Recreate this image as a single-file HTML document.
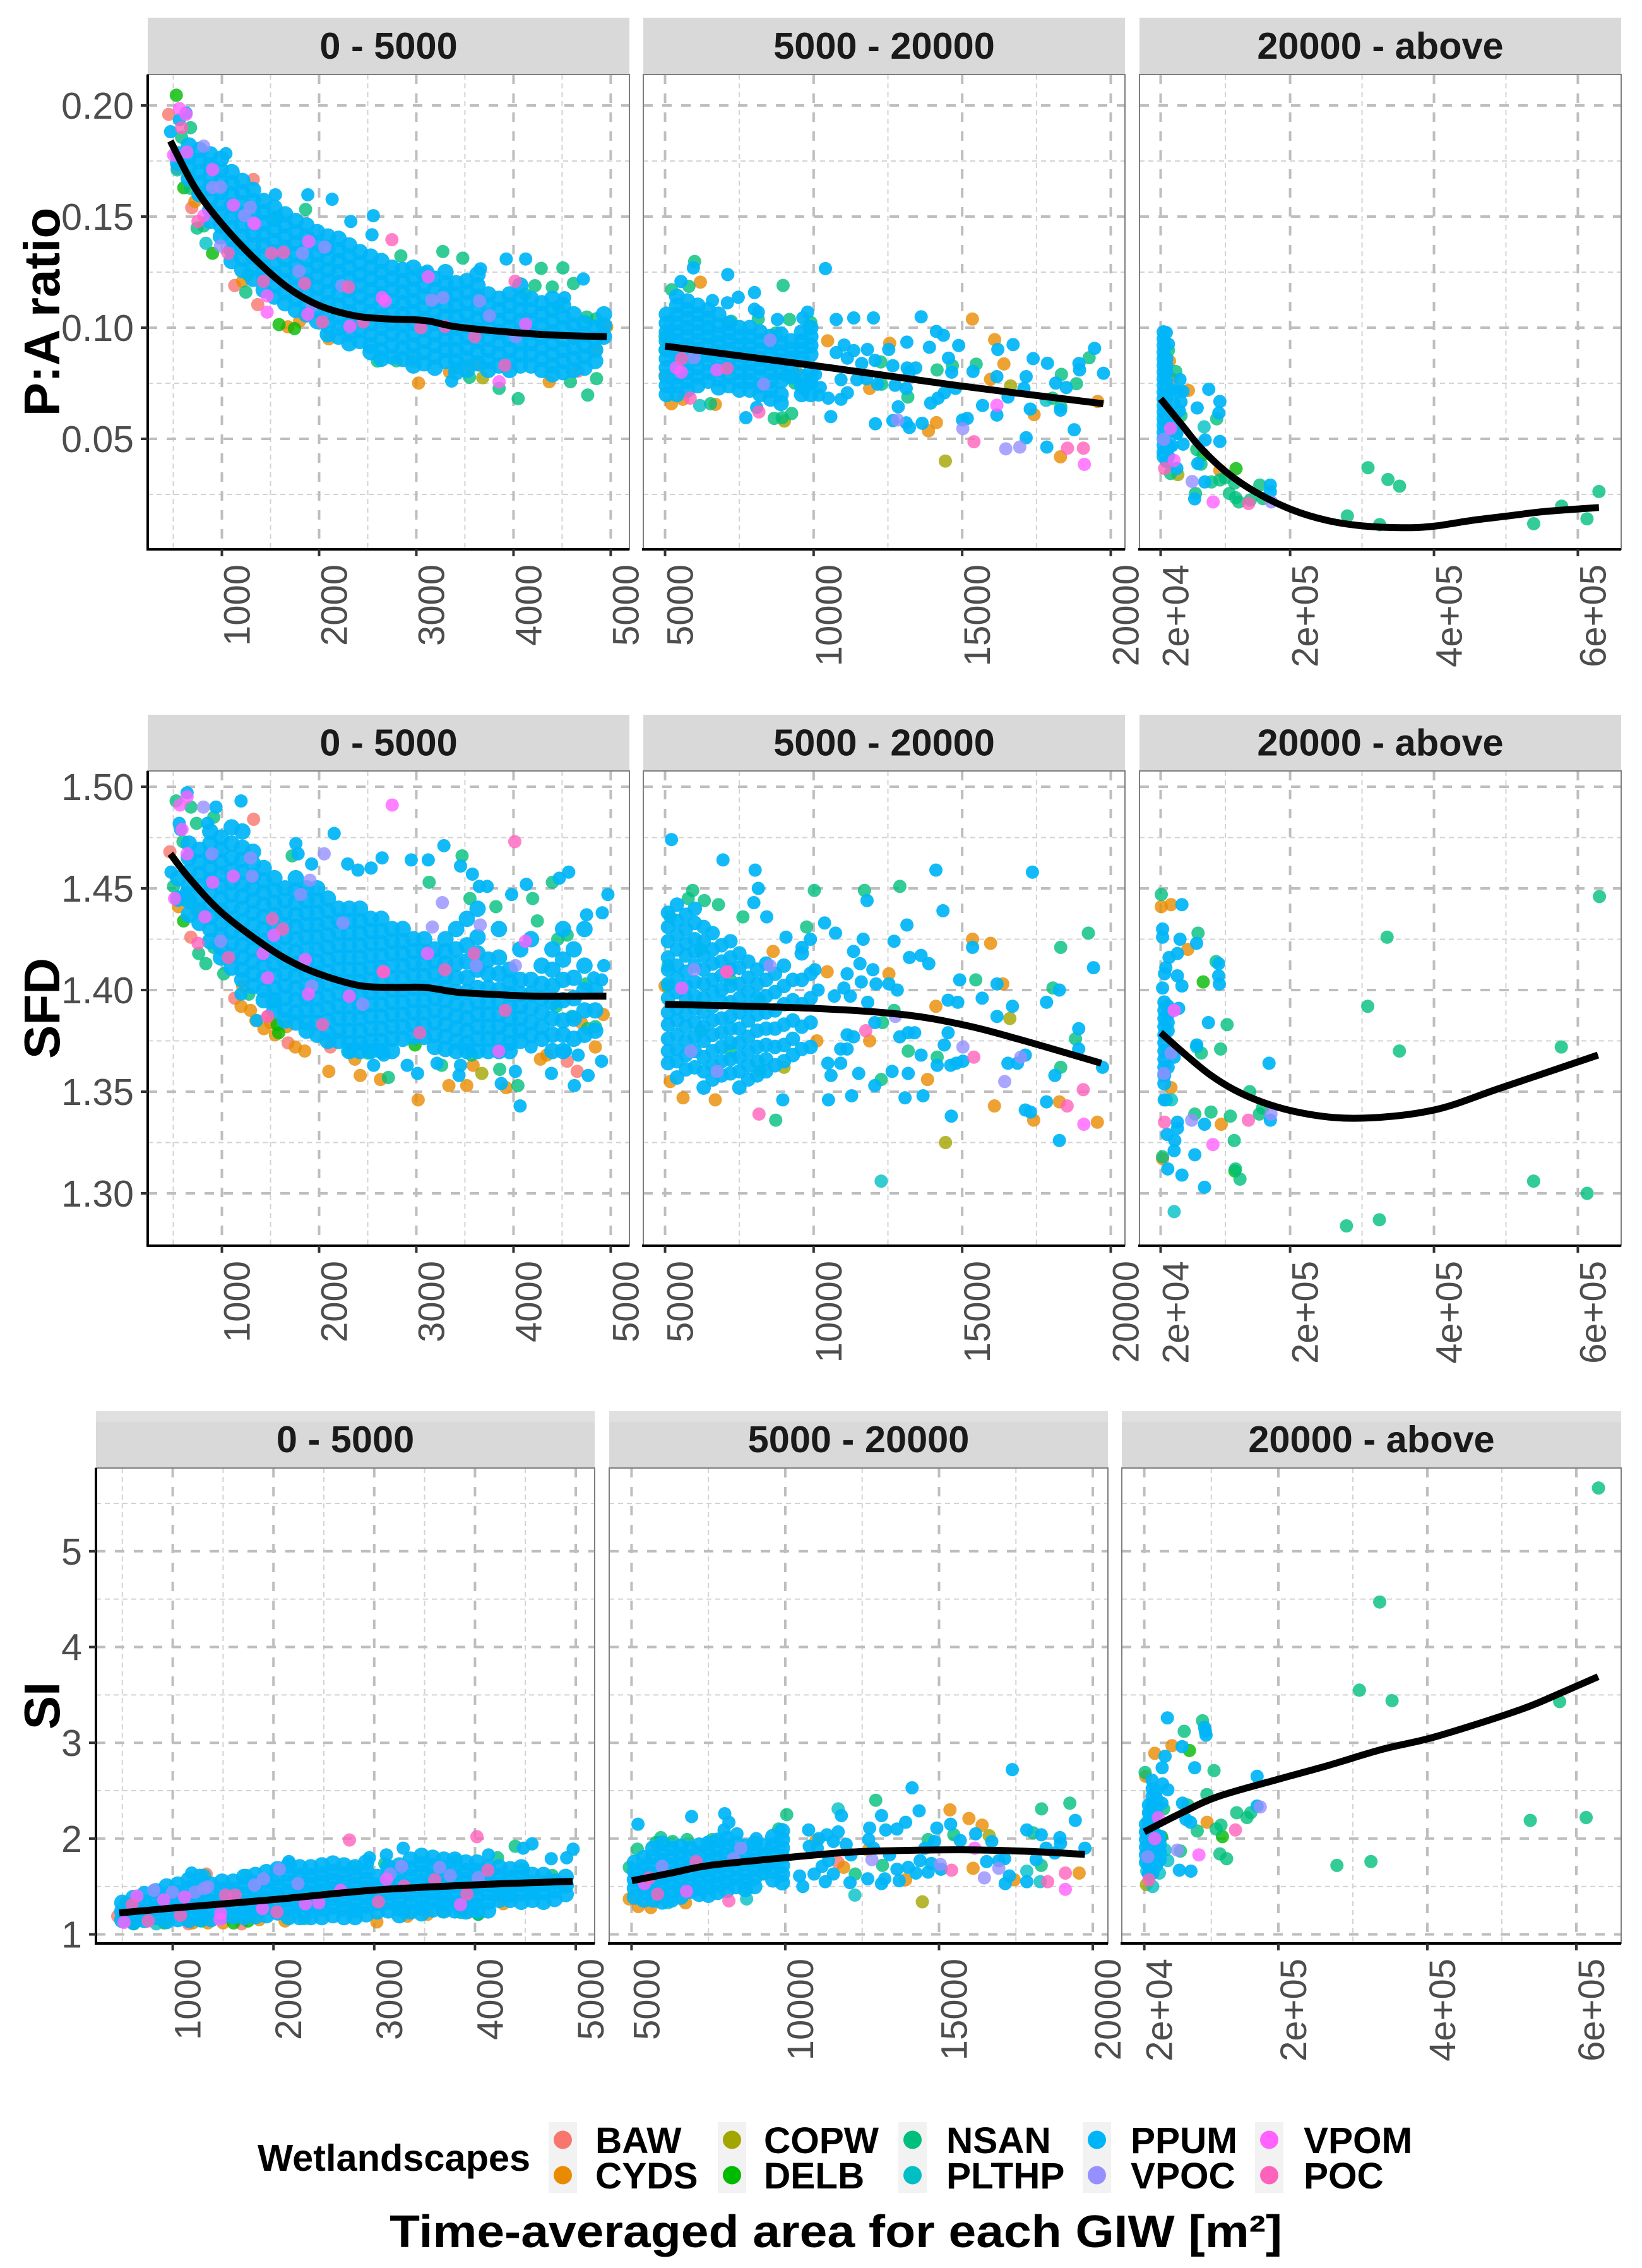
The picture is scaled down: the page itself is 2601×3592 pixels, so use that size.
<!DOCTYPE html>
<html lang="en">
<head>
<meta charset="utf-8">
<title>Wetlandscape metrics by area</title>
<style>
html,body{margin:0;padding:0;background:#fff;}
svg{display:block;font-family:"Liberation Sans",sans-serif;}
</style>
</head>
<body>
<svg id="chart" xmlns="http://www.w3.org/2000/svg" width="2601" height="3592" viewBox="0 0 2601 3592"></svg>
<script>
// ---------- categories and labels ----------
const seriesCodes = ['BAW','CYDS','COPW','DELB','NSAN','PLTHP','PPUM','VPOC','VPOM','POC'];
const seriesColors = ['#F8766D','#E88B00','#A3A500','#00BA00','#00BF7D','#00BFC4','#00B5F7','#9590FF','#FF62FF','#FF62BC'];
const stripLabels = ['0 - 5000','5000 - 20000','20000 - above'];
const smallTicks = [1000,2000,3000,4000,5000];
const smallTickLabels = ['1000','2000','3000','4000','5000'];
const smallMinor = [500,1500,2500,3500,4500];
const midTicks = [5000,10000,15000,20000];
const midTickLabels = ['5000','10000','15000','20000'];
const midMinor = [7500,12500,17500];
const largeTicks = [20000,200000,400000,600000];
const largeTickLabels = ['2e+04','2e+05','4e+05','6e+05'];
const largeMinor = [110000,300000,500000];
const paTicks = [0.05,0.10,0.15,0.20];
const paTickLabels = ['0.05','0.10','0.15','0.20'];
const paMinor = [0.025,0.075,0.125,0.175];
const sfdTicks = [1.30,1.35,1.40,1.45,1.50];
const sfdTickLabels = ['1.30','1.35','1.40','1.45','1.50'];
const sfdMinor = [1.325,1.375,1.425,1.475];
const siTicks = [1,2,3,4,5];
const siTickLabels = ['1','2','3','4','5'];
const siMinor = [1.5,2.5,3.5,4.5,5.5];

// ---------- data: every entry is [area, value, value, ...] ----------
// P:A ratio, 0 - 5000
const pa1Curve = [[470,.184],[722,.163],[995,.147],[1314,.132],[1679,.118],[2000,.110],[2362,.1054],[2680,.104],[3090,.1032],[3410,.1004],[3957,.098],[4458,.0966],[4959,.096]];
const pa1BAW = [[453,.196],[1323,.1667],[690,.154],[1132,.119],[1369,.1104],[4663,.0805]];
const pa1CYDS = [[3023,.0751],[3342,.0801],[3660,.0831],[4367,.0757],[4845,.09],[4959,.1004],[1679,.1004],[722,.1568],[1214,.1209],[540,.1717],[3547,.0831],[1800,.103],[2100,.095]];
const pa1COPW = [[3683,.0775],[2954,.0851]];
const pa1DELB = [[531,.2046],[608,.163],[904,.1335],[1588,.1014],[1747,.0996]];
const pa1NSAN = [[585,.1857],[677,.19],[677,.1627],[745,.1448],[1569,.1498],[1861,.1532],[3273,.1343],[3478,.1313],[4285,.1267],[4508,.1269],[4221,.1189],[4399,.1183],[4617,.1199],[4458,.1096],[4754,.1048],[4048,.0681],[3852,.0727],[4763,.0697],[3547,.0777],[4585,.0757],[4854,.0771],[3410,.082],[2841,.1323],[2795,.0851],[1269,.1239],[1246,.116],[813,.1458],[2600,.085],[4120,.115],[4850,.104]];
const pa1PLTHP = [[540,.171],[836,.138]];
const pa1PPUM = [[1551,.1598],[1884,.1598],[2134,.1578],[2326,.1478],[2558,.1504],[2544,.1418],[1041,.1783],[472,.1882],[631,.1966],[563,.1936],[3925,.1309],[4125,.1309],[4718,.1219],[3660,.1265],[3114,.1255],[4526,.1135],[3364,.076],
[550,.178,.174],[660,.182,.177,.172,.167],[770,.18,.175,.17,.165,.16],[880,.178,.173,.168,.163,.158,.153,.148],[990,.176,.171,.166,.161,.156,.151,.146,.141],[1100,.17,.165,.16,.155,.15,.145,.14,.135,.13],[1210,.166,.161,.156,.151,.146,.141,.136,.131,.126],[1320,.162,.157,.152,.147,.142,.137,.132,.127,.122],[1430,.157,.152,.147,.142,.137,.132,.127,.122,.117],[1540,.154,.149,.144,.139,.134,.129,.124,.119,.114],[1650,.151,.146,.141,.136,.131,.126,.121,.116,.111],[1760,.148,.143,.138,.133,.128,.123,.118,.113,.108],[1870,.146,.141,.136,.131,.126,.121,.116,.111,.106],[1980,.143,.138,.133,.128,.123,.118,.113,.108,.103],[2090,.141,.136,.131,.126,.121,.116,.111,.106,.101,.097],[2200,.14,.135,.13,.125,.12,.115,.11,.105,.1,.096],[2310,.137,.132,.127,.122,.117,.112,.107,.102,.097,.093],[2420,.134,.129,.124,.119,.114,.109,.104,.099,.094],[2530,.132,.127,.122,.117,.112,.107,.102,.097,.092,.089],[2640,.13,.125,.12,.115,.11,.105,.1,.095,.09,.086],[2750,.127,.122,.117,.112,.107,.102,.097,.092,.087],[2860,.126,.121,.116,.111,.106,.101,.096,.091,.086],[2970,.127,.122,.117,.112,.107,.102,.097,.092,.087,.083],[3080,.124,.119,.114,.109,.104,.099,.094,.089,.084],[3190,.122,.117,.112,.107,.102,.097,.092,.087,.082],[3300,.125,.12,.115,.11,.105,.1,.095,.09,.085],[3410,.12,.115,.11,.105,.1,.095,.09,.085,.08],[3520,.121,.116,.111,.106,.101,.096,.091,.086,.081],[3630,.124,.119,.114,.109,.104,.099,.094,.089,.084],[3740,.115,.11,.105,.1,.095,.09,.085,.081],[3850,.113,.108,.103,.098,.093,.088,.083],[3960,.115,.11,.105,.1,.095,.09,.085,.081],[4070,.119,.113,.108,.103,.098,.093,.088,.083],[4180,.113,.108,.103,.098,.093,.088,.083],[4290,.111,.106,.101,.096,.091,.086,.081],[4400,.113,.108,.103,.098,.093,.088,.083,.079],[4510,.11,.105,.1,.095,.09,.085,.08],[4620,.106,.101,.096,.091,.086,.081],[4730,.102,.097,.092,.087,.082],[4840,.1,.095,.09,.085],[4930,.106,.101,.096]];
const pa1VPOC = [[813,.1817],[1292,.1542],[986,.1633],[904,.1631],[1232,.1504],[1323,.1472],[1829,.1335],[2057,.1363],[1793,.1255],[2235,.1189],[986,.1368],[1929,.11],[3159,.1124],[3273,.1135],[3651,.112],[3752,.1054],[4025,.096]];
const pa1VPOM = [[563,.1986],[631,.196],[640,.179],[503,.1777],[904,.1711],[1118,.1552],[813,.1504],[1465,.1143],[1465,.107],[1884,.106],[2649,.1135],[2681,.112],[3123,.1229],[4125,.1016],[2317,.1006],[3852,.0757],[1337,.1468],[1893,.1388]];
const pa1POC = [[585,.19],[2749,.1396],[1510,.1335],[1633,.1339],[1064,.1335],[754,.1478],[1428,.1209],[1852,.1199],[2303,.1183],[2034,.1026],[3046,.1],[3296,.1006],[3601,.096],[4016,.1209],[3911,.0831],[2453,.1026]];

// P:A ratio, 5000 - 20000
const pa2Curve = [[5000,.0917],[10490,.0821],[14775,.0741],[19750,.0658]];
const pa2CYDS = [[6188,.1205],[15343,.1039],[16092,.0946],[12559,.093],[16403,.0837],[15953,.0768],[10471,.0941],[11884,.0727],[17420,.0609],[14133,.0573],[13865,.0536],[18308,.0419],[19561,.0668],[5214,.0658],[6692,.0655],[5000,.0785],[5600,.0678],[9422,.08]];
const pa2COPW = [[14433,.04],[16627,.0738],[9015,.058]];
const pa2NSAN = [[5995,.1298],[5225,.1171],[5803,.1186],[8972,.119],[9186,.1037],[9904,.1024],[8726,.0976],[9368,.0751],[9047,.0785],[8137,.1039],[7227,.1029],[12259,.0846],[14154,.081],[14668,.0829],[15471,.0836],[13169,.0688],[19272,.0865],[18340,.079],[18844,.0748],[18041,.0683],[18319,.0644],[9261,.0614],[8672,.0592],[8940,.0595],[6531,.0658],[12291,.0746],[5000,.096],[5000,.09]];
const pa2PLTHP = [[6167,.065],[17826,.0673]];
const pa2PPUM = [[10396,.1266],[7109,.1239],[5953,.1269],[5535,.1208],[8009,.1158],[7463,.1137],[7098,.1112],[6595,.1122],[8009,.1083],[8137,.107],[8780,.1037],[9797,.107],[9636,.1044],[10760,.1037],[11349,.1044],[12013,.1044],[13619,.1049],[14133,.0983],[14368,.0966],[13137,.0935],[13897,.0912],[14882,.092],[16199,.0902],[16713,.0924],[17388,.0861],[17869,.084],[18929,.0839],[19454,.0907],[19754,.0795],[18951,.081],[14540,.0863],[14647,.08],[15364,.0803],[16167,.078],[17152,.078],[17077,.0727],[16542,.0688],[18148,.0751],[18501,.0731],[14775,.0727],[14400,.0707],[14186,.0683],[13940,.0661],[12848,.0644],[15685,.065],[17291,.0634],[18308,.0629],[16167,.0607],[15011,.0585],[15171,.0592],[12666,.0582],[13116,.0572],[13223,.0551],[13651,.057],[12077,.0568],[10578,.06],[7720,.0595],[8084,.0641],[17152,.0505],[17848,.0463],[18769,.0541],[11028,.0922],[11349,.0897],[10760,.0888],[11810,.0902],[11135,.0863],[11617,.0839],[12066,.0853],[12527,.0902],[12666,.0829],[13148,.0819],[13437,.0819],[13223,.08],[10921,.0766],[11456,.0766],[11777,.077],[12152,.0746],[12741,.0741],[13116,.0727],[11135,.0707],[10921,.0678],[10492,.0683],[10171,.0697],[10225,.0731],[9690,.0722],[9904,.0761],[10064,.079],
[5050,.106,.102,.098,.094,.09,.086,.082,.078,.074,.07],[5400,.114,.11,.106,.102,.098,.094,.09,.086,.082,.078,.074,.07],[5750,.112,.108,.104,.1,.096,.092,.088,.084,.08,.076,.072],[6100,.11,.106,.102,.098,.094,.09,.086,.082,.078,.074],[6450,.108,.104,.1,.096,.092,.088,.084,.08,.076],[6800,.106,.101,.097,.093,.089,.085,.081,.077,.073],[7150,.102,.098,.094,.09,.086,.082,.078,.074],[7500,.1,.096,.092,.088,.084,.08,.076,.072],[7850,.1,.096,.092,.088,.084,.08,.076,.072],[8200,.098,.094,.09,.086,.082,.078,.074,.07],[8550,.096,.092,.088,.084,.08,.076,.072,.068],[8900,.097,.093,.089,.085,.08,.076,.07,.066],[9250,.094,.09,.086,.082,.078],[9600,.098,.094,.09,.086,.078,.074,.07],[9900,.1,.096,.092,.088,.08,.075,.07]];
const pa2VPOC = [[8533,.0944],[8319,.0746],[5974,.0865],[12827,.0585],[15021,.0546],[16467,.0455],[16938,.0463]];
const pa2VPOM = [[16167,.0651],[19111,.0385],[5546,.08],[6745,.081],[5375,.082]];
const pa2POC = [[5557,.0861],[7088,.0817],[5846,.0683],[8158,.0621],[15396,.0487],[18544,.0458],[19079,.0458]];

// P:A ratio, 20000 - above
const pa3Curve = [[20000,.068],[49736,.0562],[74936,.0462],[110216,.0353],[150536,.0263],[200936,.0183],[251336,.0133],[301736,.0108],[362216,.01],[402536,.0108],[452936,.0133],[503336,.0153],[553736,.0173],[629336,.0191]];
const pa3CYDS = [[58544,.0718],[32264,.085],[102344,.0358],[35184,.077]];
const pa3COPW = [[43944,.0339]];
const pa3DELB = [[124828,.0366],[78984,.0429]];
const pa3NSAN = [[41024,.0803],[30804,.0898],[97964,.059],[76064,.0386],[70224,.0452],[68472,.0254],[90664,.0306],[102344,.0315],[109644,.0325],[122784,.0301],[115484,.0254],[124244,.0235],[128624,.0216],[144684,.0225],[157824,.0292],[162204,.0231],[33724,.0344],[48324,.0604],[279560,.0153],[308288,.037],[336000,.0317],[352136,.0287],[324416,.0114],[538616,.0118],[577424,.0197],[612704,.014],[629336,.0263]];
const pa3PLTHP = [[80440,.0554],[42484,.053]];
const pa3PPUM = [[24000,.098,.095,.092,.089,.086,.083,.08,.077,.074,.071,.068,.065,.062,.059,.056,.053,.05,.047,.044,.042],[28000,.086,.083,.08,.076,.072,.068,.064,.06,.056,.052,.048,.044,.04],[27884,.0978],[30804,.0926],[46864,.0767],[43944,.0713],[51000,.0713],[48324,.0666],[46000,.0625],[42484,.0524],[51244,.0476],[38000,.056],[33000,.0465],[36000,.047],[31000,.042],[42484,.0367],[36000,.072],[38000,.066],[86868,.0723],[102344,.0668],[70808,.0639],[100884,.0616],[81904,.0495],[102344,.0488],[71684,.0389],[81320,.0306],[67304,.023],[172424,.0292],[172424,.0263]];
const pa3VPOC = [[24380,.0498],[63800,.0308],[173884,.0216]];
const pa3VPOM = [[33724,.0547],[38688,.0403],[93000,.0216]];
const pa3POC = [[25548,.0367],[142348,.0209]];

// SFD, 0 - 5000
const sfd1Curve = [[470,1.467],[665,1.455],[1000,1.438],[1470,1.421],[1794,1.412],[2116,1.406],[2439,1.402],[2761,1.4013],[3084,1.4013],[3406,1.399],[3729,1.398],[4213,1.397],[4955,1.397]];
const sfd1BAW = [[465,1.468],[1326,1.484],[681,1.426],[1132,1.396],[1681,1.374],[1471,1.387],[2116,1.372],[4655,1.36],[4552,1.365]];
const sfd1CYDS = [[2100,1.36],[2423,1.358],[2632,1.356],[3335,1.353],[3519,1.353],[3019,1.346],[2368,1.366],[1852,1.37],[1755,1.372],[1432,1.381],[1294,1.39],[1197,1.392],[1665,1.382],[3923,1.352],[3584,1.363],[4277,1.366],[4342,1.368],[4697,1.384],[4923,1.388],[4842,1.372],[552,1.441],[745,1.439],[1213,1.402],[1350,1.385],[1550,1.378],[1500,1.384]];
const sfd1COPW = [[3674,1.359]];
const sfd1DELB = [[606,1.434],[1568,1.383],[1584,1.379],[2987,1.373]];
const sfd1NSAN = [[529,1.493],[681,1.49],[916,1.485],[739,1.482],[600,1.473],[1723,1.466],[503,1.451],[681,1.443],[3132,1.453],[3471,1.466],[4400,1.453],[4197,1.445],[3819,1.441],[3552,1.445],[761,1.418],[916,1.421],[835,1.413],[1019,1.408],[1277,1.398],[1519,1.394],[2713,1.357],[4045,1.353],[3261,1.363],[3858,1.361],[3568,1.368],[4600,1.387],[4842,1.382],[4761,1.381],[4745,1.403],[4439,1.392],[2310,1.37],[2503,1.369],[4552,1.427],[4245,1.434],[4455,1.425]];
const sfd1PPUM = [[642,1.497],[939,1.49],[1197,1.493],[561,1.482],[574,1.479],[852,1.482],[2155,1.477],[3284,1.471],[3455,1.461],[1761,1.472],[1784,1.467],[2648,1.465],[2948,1.464],[3123,1.464],[1923,1.462],[2294,1.462],[2400,1.459],[2535,1.46],[3577,1.457],[4568,1.458],[4471,1.455],[4132,1.452],[3981,1.447],[4971,1.447],[4752,1.437],[4913,1.438],[3729,1.451],[3648,1.451],[4929,1.412],[4906,1.405],[4826,1.406],[477,1.458],[632,1.448],[4068,1.343],[4626,1.353],[4906,1.365],[4768,1.358],[4019,1.36],[3874,1.354],[3439,1.358],[3013,1.359],[2906,1.363],[2561,1.363],[4390,1.359],[3455,1.363],[2665,1.368],[3213,1.364],[4181,1.372],[4665,1.368],[4535,1.37],[1197,1.398],[1358,1.385],
[550,1.455,1.445],[660,1.472,1.465,1.458,1.451,1.444,1.437],[770,1.469,1.463,1.457,1.451,1.445,1.439,1.433],[880,1.478,1.472,1.466,1.46,1.454,1.448,1.442,1.436,1.43,1.424],[990,1.475,1.469,1.463,1.457,1.451,1.445,1.439,1.433,1.427,1.421,1.416],[1100,1.48,1.472,1.465,1.459,1.453,1.447,1.441,1.435,1.429,1.423,1.417,1.411],[1210,1.478,1.47,1.464,1.458,1.452,1.446,1.44,1.434,1.428,1.422,1.416,1.41,1.405],[1320,1.468,1.462,1.456,1.45,1.444,1.438,1.432,1.426,1.42,1.414,1.408,1.402],[1430,1.46,1.454,1.448,1.442,1.436,1.43,1.424,1.418,1.412,1.406,1.4,1.395],[1540,1.455,1.449,1.443,1.437,1.431,1.425,1.419,1.413,1.407,1.401,1.395,1.39],[1650,1.45,1.444,1.438,1.432,1.426,1.42,1.414,1.408,1.402,1.396,1.39,1.385],[1760,1.455,1.449,1.443,1.437,1.431,1.425,1.419,1.413,1.407,1.401,1.395,1.389,1.384],[1870,1.45,1.444,1.438,1.432,1.426,1.42,1.414,1.408,1.402,1.396,1.39,1.384,1.38],[1980,1.45,1.444,1.438,1.432,1.426,1.42,1.414,1.408,1.402,1.396,1.39,1.384,1.378],[2090,1.445,1.439,1.433,1.427,1.421,1.415,1.409,1.403,1.397,1.391,1.385,1.379,1.375],[2200,1.44,1.434,1.428,1.422,1.416,1.41,1.404,1.398,1.392,1.386,1.38,1.375],[2310,1.44,1.434,1.428,1.422,1.416,1.41,1.404,1.398,1.392,1.386,1.38,1.374,1.37],[2420,1.44,1.434,1.428,1.422,1.416,1.41,1.404,1.398,1.392,1.386,1.38,1.374,1.37],[2530,1.435,1.429,1.423,1.417,1.411,1.405,1.399,1.393,1.387,1.381,1.375,1.37],[2640,1.435,1.429,1.423,1.417,1.411,1.405,1.399,1.393,1.387,1.381,1.375,1.37],[2750,1.43,1.424,1.418,1.412,1.406,1.4,1.394,1.388,1.382,1.376,1.37],[2860,1.43,1.424,1.418,1.412,1.406,1.4,1.394,1.388,1.382,1.376],[2970,1.425,1.419,1.413,1.407,1.401,1.395,1.389,1.383,1.377],[3080,1.425,1.419,1.413,1.407,1.401,1.395,1.389,1.383,1.377],[3190,1.42,1.414,1.408,1.402,1.396,1.39,1.384,1.378,1.372],[3300,1.425,1.419,1.413,1.407,1.401,1.395,1.389,1.383,1.377,1.371],[3410,1.43,1.42,1.413,1.406,1.399,1.393,1.387,1.381,1.375,1.37],[3520,1.435,1.422,1.414,1.406,1.399,1.392,1.386,1.38,1.374,1.37],[3630,1.44,1.426,1.418,1.41,1.401,1.394,1.388,1.382,1.376,1.37],[3740,1.415,1.408,1.401,1.394,1.388,1.382,1.376,1.37],[3850,1.43,1.416,1.408,1.4,1.394,1.388,1.382,1.376,1.37],[3960,1.41,1.404,1.398,1.392,1.386,1.38,1.374,1.37],[4070,1.42,1.405,1.398,1.392,1.386,1.38,1.375],[4180,1.425,1.405,1.398,1.391,1.384,1.378],[4290,1.412,1.403,1.396,1.389,1.382,1.376],[4400,1.42,1.41,1.402,1.394,1.386,1.378,1.37],[4510,1.43,1.415,1.405,1.395,1.385,1.378,1.37],[4620,1.42,1.406,1.396,1.386,1.376],[4730,1.43,1.412,1.4,1.39,1.378],[4840,1.4,1.39,1.38]];
const sfd1VPOC = [[810,1.49],[2052,1.467],[897,1.467],[1906,1.454],[1810,1.447],[3268,1.443],[3658,1.432],[3165,1.431],[4019,1.412],[3616,1.412],[1294,1.465],[1310,1.456],[2448,1.393],[987,1.424],[2245,1.433],[1923,1.402]];
const sfd1VPOM = [[568,1.491],[642,1.495],[590,1.479],[642,1.467],[513,1.445],[2752,1.491],[1471,1.406],[3116,1.418],[4123,1.424],[2665,1.409],[3848,1.37],[1890,1.398],[2310,1.397],[1116,1.456],[906,1.453],[826,1.436],[1535,1.427],[1423,1.418],[1858,1.415]];
const sfd1POC = [[4013,1.473],[755,1.423],[1519,1.435],[1626,1.43],[1068,1.416],[2658,1.409],[3294,1.41],[3594,1.418],[3035,1.379],[2035,1.383],[3913,1.39],[1471,1.387]];

// SFD, 5000 - 20000
const sfd2Curve = [[5000,1.393],[10000,1.391],[12965,1.388],[15000,1.383],[16860,1.376],[19680,1.364]];
const sfd2CYDS = [[15349,1.425],[15955,1.423],[16366,1.403],[12534,1.408],[10456,1.409],[14115,1.392],[11885,1.375],[13833,1.356],[16085,1.343],[17405,1.336],[18271,1.345],[19549,1.335],[5606,1.347],[6689,1.346],[5173,1.355],[8637,1.419],[10109,1.375],[5000,1.402]];
const sfd2COPW = [[14439,1.325],[16604,1.386],[9005,1.362]];
const sfd2NSAN = [[10023,1.449],[11712,1.449],[12902,1.451],[19246,1.428],[18315,1.421],[15457,1.405],[18055,1.401],[12707,1.39],[12318,1.384],[13184,1.37],[14158,1.367],[12274,1.356],[18315,1.362],[18812,1.376],[9763,1.431],[8724,1.336],[7620,1.436],[6797,1.442],[6321,1.444],[5931,1.449],[5779,1.445],[5173,1.436],[7200,1.405],[7200,1.37],[8200,1.395],[8200,1.36],[6200,1.42],[6200,1.38],[5100,1.412],[5100,1.402]];
const sfd2PLTHP = [[12274,1.306]];
const sfd2PPUM = [[5216,1.474],[6949,1.464],[8031,1.459],[8139,1.45],[7988,1.443],[8421,1.436],[14115,1.459],[17362,1.458],[14353,1.439],[13140,1.432],[10369,1.433],[10737,1.428],[11668,1.425],[11798,1.444],[12707,1.424],[11343,1.419],[13227,1.416],[13616,1.417],[13877,1.413],[11560,1.413],[11993,1.41],[11127,1.408],[10044,1.41],[9070,1.426],[9893,1.425],[9611,1.421],[19419,1.411],[15349,1.421],[14916,1.405],[16172,1.403],[18271,1.4],[17838,1.394],[15673,1.396],[14851,1.394],[14526,1.395],[16691,1.392],[11603,1.404],[12101,1.403],[12534,1.403],[12815,1.4],[11019,1.401],[10694,1.397],[11235,1.397],[11820,1.394],[10152,1.4],[12058,1.384],[13184,1.379],[13400,1.379],[12900,1.377],[14526,1.379],[16172,1.387],[18921,1.381],[11127,1.378],[11343,1.377],[11127,1.371],[10910,1.371],[14396,1.373],[17124,1.368],[16860,1.364],[16540,1.364],[14800,1.364],[15024,1.365],[14612,1.363],[14158,1.363],[13616,1.368],[13184,1.359],[12642,1.36],[11517,1.359],[12058,1.353],[10910,1.364],[10477,1.364],[10585,1.358],[18119,1.358],[19722,1.362],[18921,1.371],[11279,1.348],[10499,1.346],[13076,1.347],[13682,1.348],[8962,1.346],[14634,1.338],[18271,1.326],[17124,1.341],[17297,1.34],[17838,1.345],
[5100,1.438,1.431,1.424,1.416,1.41,1.403,1.396,1.389,1.383,1.376,1.37,1.364],[5400,1.442,1.434,1.427,1.42,1.412,1.406,1.399,1.391,1.385,1.378,1.371,1.365,1.357],[5700,1.437,1.43,1.423,1.417,1.409,1.402,1.396,1.388,1.382,1.375,1.368,1.361],[6000,1.44,1.433,1.425,1.419,1.412,1.404,1.397,1.391,1.384,1.377,1.37,1.362],[6300,1.431,1.424,1.417,1.41,1.403,1.396,1.389,1.382,1.375,1.367,1.36,1.352],[6600,1.428,1.42,1.413,1.405,1.399,1.392,1.385,1.378,1.37,1.363,1.356],[6900,1.422,1.414,1.407,1.4,1.394,1.386,1.379,1.372,1.365,1.358],[7200,1.424,1.416,1.41,1.402,1.394,1.387,1.381,1.374,1.366,1.359],[7500,1.418,1.411,1.403,1.396,1.389,1.381,1.374,1.367,1.36,1.352],[7800,1.414,1.406,1.399,1.392,1.385,1.377,1.37,1.363,1.356],[8100,1.41,1.403,1.396,1.388,1.38,1.372,1.365,1.358],[8400,1.413,1.405,1.397,1.389,1.381,1.373,1.366,1.36],[8700,1.408,1.399,1.39,1.381,1.372,1.363],[9000,1.412,1.402,1.393,1.383,1.373,1.365],[9300,1.405,1.395,1.385,1.376,1.368],[9600,1.418,1.405,1.393,1.382,1.371],[9900,1.408,1.396,1.384,1.372]];
const sfd2VPOC = [[16431,1.355],[15024,1.372],[16973,1.367],[5866,1.37],[5974,1.41],[8530,1.412],[6753,1.36],[12750,1.387]];
const sfd2VPOM = [[19094,1.334],[5563,1.401],[7078,1.409]];
const sfd2POC = [[19073,1.351],[18531,1.343],[8161,1.339],[15392,1.367],[11755,1.38],[7078,1.409]];

// SFD, 20000 - above
const sfd3Curve = [[20000,1.379],[90000,1.358],[152800,1.346],[224500,1.339],[300700,1.337],[400000,1.341],[494000,1.352],[628000,1.368]];
const sfd3CYDS = [[20900,1.441],[34400,1.442],[57700,1.42],[104300,1.334],[34400,1.352],[22700,1.317]];
const sfd3DELB = [[79200,1.404],[123200,1.311]];
const sfd3NSAN = [[20900,1.447],[72000,1.428],[97100,1.414],[112400,1.383],[103400,1.371],[76500,1.369],[143800,1.35],[161700,1.342],[157200,1.339],[116900,1.338],[90000,1.34],[67500,1.339],[122300,1.326],[124100,1.312],[130300,1.307],[22700,1.318],[307900,1.392],[351900,1.37],[334800,1.426],[577000,1.372],[538500,1.306],[612900,1.3],[630000,1.446],[278300,1.284],[324100,1.287]];
const sfd3PLTHP = [[38800,1.291],[70000,1.372],[28000,1.346],[35000,1.346]];
const sfd3PPUM = [[49600,1.442],[22700,1.43],[22700,1.426],[46900,1.425],[70000,1.423],[43300,1.418],[31700,1.416],[27200,1.411],[25400,1.408],[43300,1.407],[100700,1.413],[100700,1.407],[101600,1.403],[49600,1.402],[22700,1.401],[45100,1.391],[86400,1.384],[70200,1.373],[38800,1.367],[170700,1.364],
[25000,1.394,1.39,1.386,1.382,1.378,1.374,1.37,1.366,1.362,1.358,1.354],[30000,1.392,1.388,1.384,1.38,1.37,1.362],[43300,1.335],[43300,1.332],[81000,1.334],[29000,1.329],[172500,1.336],[39700,1.326],[38800,1.321],[67500,1.319],[29900,1.312],[49600,1.309],[81000,1.303],[25000,1.346]];
const sfd3VPOC = [[63100,1.336],[173400,1.339],[34400,1.369],[38800,1.39],[24500,1.359]];
const sfd3VPOM = [[92700,1.324],[38800,1.39]];
const sfd3POC = [[142000,1.336],[25400,1.335]];

// SI, 0 - 5000
const si1Curve = [[470,1.224],[1000,1.275],[2000,1.363],[3000,1.462],[4000,1.517],[4970,1.554]];
const si1BAW = [[1332,1.63],[454,1.19],[1157,1.11],[1684,1.11]];
const si1CYDS = [[3026,1.13],[3329,1.19],[3530,1.21],[3936,1.23],[4281,1.32],[2115,1.14],[1348,1.12],[1859,1.154],[1500,1.12],[1200,1.12]];
const si1COPW = [[3674,1.24]];
const si1DELB = [[534,1.33],[613,1.11],[917,1.12],[1604,1.12],[1748,1.14],[4032,1.21]];
const si1NSAN = [[4399,1.92],[1732,1.615],[4224,1.8],[3105,1.74],[2786,1.7],[3808,1.77],[4479,1.68],[4767,1.615],[4032,1.21],[2307,1.165],[1284,1.14],[3297,1.24],[3856,1.23]];
const si1PLTHP = [[837,1.11],[1316,1.615]];
const si1PPUM = [[3288,1.9],[3121,1.83],[2952,1.8],[4479,1.9],[4566,1.945],[4974,1.89],[4910,1.8],[4757,1.79],[4134,1.83],[2153,1.76],[1188,1.64],
[500,1.33,1.24,1.15],[610,1.38,1.29,1.2,1.13],[720,1.42,1.33,1.24,1.15],[830,1.45,1.36,1.27,1.18],[940,1.5,1.41,1.32,1.23,1.14],[1050,1.52,1.43,1.34,1.25,1.16],[1160,1.57,1.48,1.39,1.3,1.21,1.15],[1270,1.6,1.51,1.42,1.33,1.24,1.16],[1380,1.52,1.43,1.34,1.25,1.16],[1490,1.55,1.46,1.37,1.28,1.19],[1600,1.55,1.46,1.37,1.28,1.19],[1710,1.6,1.51,1.42,1.33,1.24,1.18],[1820,1.62,1.53,1.44,1.35,1.26,1.19],[1930,1.65,1.56,1.47,1.38,1.29,1.2],[2040,1.68,1.59,1.5,1.41,1.32,1.23],[2150,1.72,1.63,1.54,1.45,1.36,1.27,1.18],[2260,1.7,1.61,1.52,1.43,1.34,1.25,1.18],[2370,1.7,1.61,1.52,1.43,1.34,1.25,1.18],[2480,1.72,1.63,1.54,1.45,1.36,1.27,1.18],[2590,1.74,1.65,1.56,1.47,1.38,1.29,1.2],[2700,1.72,1.63,1.54,1.45,1.36,1.27,1.18],[2810,1.7,1.61,1.52,1.43,1.34,1.25,1.18],[2920,1.75,1.66,1.57,1.48,1.39,1.3,1.21],[3030,1.6,1.51,1.42,1.33,1.24],[3140,1.7,1.61,1.52,1.43,1.34,1.25],[3250,1.72,1.63,1.54,1.45,1.36,1.27,1.2],[3360,1.78,1.69,1.6,1.51,1.42,1.33,1.24],[3470,1.82,1.73,1.64,1.55,1.46,1.37,1.28,1.22],[3580,1.8,1.71,1.62,1.53,1.44,1.35,1.26],[3690,1.78,1.69,1.6,1.51,1.42,1.33,1.25],[3800,1.78,1.69,1.6,1.51,1.42,1.33,1.25],[3910,1.75,1.66,1.57,1.48,1.39,1.3,1.24],[4020,1.75,1.66,1.57,1.48,1.39,1.3,1.25],[4130,1.7,1.61,1.52,1.43,1.34,1.25],[4240,1.7,1.61,1.52,1.43,1.36],[4350,1.68,1.59,1.5,1.41,1.36],[4460,1.7,1.61,1.52,1.43,1.34],[4570,1.62,1.53,1.44,1.36],[4680,1.62,1.53,1.44,1.34],[4790,1.55,1.46,1.37],[4900,1.6,1.51,1.42]];
const si1VPOC = [[812,1.46],[997,1.44],[1220,1.44],[1310,1.48],[1348,1.495],[1812,1.515],[1901,1.58],[2058,1.68],[2243,1.53],[3157,1.63],[3272,1.71],[3649,1.7],[3754,1.615],[4032,1.59]];
const si1VPOM = [[518,1.125],[645,1.4],[910,1.36],[1118,1.39],[1476,1.22],[1470,1.155],[1891,1.27],[2316,1.32],[2450,1.33],[2668,1.46],[3121,1.575],[3856,1.31]];
const si1POC = [[2754,1.985],[4019,2.02],[3601,1.57],[3042,1.34],[2035,1.235],[757,1.14],[597,1.31],[1524,1.41],[1620,1.41],[3920,1.42],[3297,1.505],[4128,1.67],[1077,1.2]];

// SI, 5000 - 20000
const si2Curve = [[5010,1.56],[6285,1.64],[7540,1.72],[10000,1.8],[12030,1.857],[13600,1.875],[15690,1.883],[17780,1.868],[19745,1.835]];
const si2BAW = [[11719,1.75]];
const si2CYDS = [[15356,2.3],[15973,2.21],[16401,2.14],[16108,1.69],[19557,1.64],[17446,1.57],[13914,1.57],[11897,1.7],[6756,1.33],[5627,1.28],[5219,1.29],[4927,1.37],[12700,1.88],[11000,1.98]];
const si2COPW = [[14457,1.34],[16631,2.03]];
const si2NSAN = [[5188,1.89],[5951,2.01],[6338,1.97],[6808,1.99],[7623,1.99],[5800,1.96],[10047,2.25],[9786,2.1],[12942,2.4],[18334,2.31],[19254,2.37],[15481,2.04],[14645,1.99],[18062,2.06],[18324,1.72],[13161,1.72],[12273,1.63],[9285,1.63],[4927,1.7],[8689,1.49]];
const si2PLTHP = [[11719,2.31],[12263,1.41],[17854,1.66],[8741,1.37],[18292,1.55],[6181,1.33]];
const si2PPUM = [[5209,2.15],[6954,2.23],[8030,2.26],[8166,2.17],[8010,2.09],[8428,2.05],[9055,2],[17383,2.72],[14123,2.53],[14353,2.29],[13130,2.24],[11824,2.24],[12743,2.11],[13266,2.09],[13632,2.1],[13914,2.17],[14928,2.11],[15377,2.15],[16192,2.05],[15690,1.98],[16715,1.97],[17854,2.09],[18324,2.04],[18930,2.01],[19431,2.19],[19745,1.9],[18951,1.95],[18481,1.9],[18156,1.78],[18762,1.85],[17133,1.79],[16547,1.76],[16944,1.77],[17289,1.61],[17153,1.53],[17854,1.55],[14854,1.97],[14541,1.9],[14384,1.77],[14750,1.74],[14645,1.65],[15063,1.68],[14248,1.64],[13997,1.7],[13632,1.68],[13705,1.56],[13235,1.58],[13130,1.53],[12681,1.58],[12106,1.54],[11563,1.63],[11301,1.55],[10936,1.63],[11197,1.71],[11406,1.77],[10570,1.5],[10465,1.61],[11719,2.07],[11354,2.04],[11092,2],[10758,2.09],[10779,1.92],[11040,1.9],[11563,1.97],[11981,1.94],[12137,1.83],[12712,1.99],[12869,1.9],[13391,1.83],
[5100,1.75,1.66,1.57,1.48,1.39],[5400,1.8,1.71,1.62,1.53,1.44,1.36],[5700,1.9,1.81,1.72,1.63,1.54,1.45,1.36],[6000,1.95,1.86,1.77,1.68,1.59,1.5,1.41,1.34],[6300,1.9,1.81,1.72,1.63,1.54,1.45,1.36],[6600,1.92,1.83,1.74,1.65,1.56,1.47,1.39],[6900,1.9,1.81,1.72,1.63,1.54,1.45],[7200,1.93,1.84,1.75,1.66,1.57,1.48,1.42],[7500,1.95,1.86,1.77,1.68,1.59,1.5,1.41],[7800,1.98,1.89,1.8,1.71,1.62,1.53,1.44],[8100,2,1.91,1.82,1.73,1.64,1.55,1.46],[8400,1.95,1.86,1.77,1.68,1.59,1.5],[8700,1.92,1.83,1.74,1.65,1.56,1.47],[9000,1.95,1.86,1.77,1.68,1.59,1.5],[9300,1.92,1.83,1.74,1.65],[9600,2.02,1.93,1.84,1.75,1.66,1.57],[9900,2.08,1.99,1.9,1.81,1.72,1.63,1.54]];
const si2VPOC = [[5993,1.71],[8553,1.9],[8323,1.79],[12817,1.78],[15042,1.73],[16474,1.59],[16944,1.69]];
const si2VPOM = [[19107,1.47],[6787,1.45],[5418,1.53],[16160,1.9]];
const si2POC = [[7100,1.76],[5575,1.59],[5846,1.42],[8166,1.35],[15408,1.67],[19108,1.64],[18533,1.55]];

// SI, 20000 - above
const si3Curve = [[20000,2.07],[70648,2.27],[119348,2.44],[200190,2.62],[265448,2.76],[338498,2.93],[399860,3.04],[460248,3.18],[533298,3.37],[582000,3.53],[629237,3.69]];
const si3CYDS = [[34100,2.89],[57224,2.97],[104318,2.17],[21974,2.65]];
const si3COPW = [[22820,1.52]];
const si3DELB = [[80630,2.92],[124904,2.02],[43124,2.02]];
const si3NSAN = [[98114,3.23],[73580,3.12],[113624,2.71],[104036,2.46],[21128,2.69],[45944,2.31],[78374,2.35],[91064,2.08],[116444,2.1],[122930,2.14],[144080,2.27],[162974,2.27],[157898,2.22],[121520,1.84],[130544,1.79],[68504,1.87],[278594,1.72],[324278,1.76],[336063,4.47],[308791,3.55],[352621,3.44],[577615,3.43],[629724,5.66],[538168,2.19],[613166,2.22]];
const si3PLTHP = [[41714,1.85],[51584,1.77],[40304,1.64],[31280,1.5],[23384,1.66],[48000,1.88]];
const si3PPUM = [[51020,3.26],[100934,3.16],[102000,3.12],[102908,3.08],[70760,2.96],[47918,2.86],[43970,2.74],[87680,2.74],[171434,2.65],[30434,2.61],[44534,2.57],[51584,2.51],[71324,2.37],[43688,2.37],[82040,2.17],[76000,2.2],[171434,2.34],[67094,1.67],[82604,1.66],
[22000,2.15,2.07,1.99,1.91,1.83,1.75],[26000,2.35,2.27,2.19,2.11,2.03,1.95,1.87,1.79,1.71,1.63],[31000,2.52,2.44,2.36,2.28,2.2,2.12,2.04,1.96,1.88,1.8,1.72,1.64],[36000,2.5,2.42,2.34,2.26,2.04,1.96,1.88,1.8,1.72],[41000,2.02,1.94,1.86,1.78]];
const si3VPOC = [[175664,2.33],[64274,1.88],[24794,1.81]];
const si3VPOM = [[38894,2.22],[34100,2],[93320,1.83]];
const si3POC = [[142388,2.09],[26204,1.57]];

// ---------- layout ----------
const rowLayouts = [
  {strip:[28,118], plot:[118,870], lefts:[234,1019,1805], rights:[997,1782,2568],
   xCal:[[1000,351.5,5000,967.4],[5000,1053.5,20000,1759.5],[20000,1838.5,600000,2499.4]],
   yCal:[0.20,167,0.05,695], band:false, title:'P:A ratio', titleName:'y-axis-title-pa-ratio', titleX:94,
   ticks:paTicks, tickLabels:paTickLabels, minor:paMinor, cloudR:[13,12.5,11],
   data:[
    {BAW:pa1BAW,CYDS:pa1CYDS,COPW:pa1COPW,DELB:pa1DELB,NSAN:pa1NSAN,PLTHP:pa1PLTHP,PPUM:pa1PPUM,VPOC:pa1VPOC,VPOM:pa1VPOM,POC:pa1POC,curve:pa1Curve},
    {CYDS:pa2CYDS,COPW:pa2COPW,NSAN:pa2NSAN,PLTHP:pa2PLTHP,PPUM:pa2PPUM,VPOC:pa2VPOC,VPOM:pa2VPOM,POC:pa2POC,curve:pa2Curve},
    {CYDS:pa3CYDS,COPW:pa3COPW,DELB:pa3DELB,NSAN:pa3NSAN,PLTHP:pa3PLTHP,PPUM:pa3PPUM,VPOC:pa3VPOC,VPOM:pa3VPOM,POC:pa3POC,curve:pa3Curve}]},
  {strip:[1132,1221], plot:[1221,1973], lefts:[234,1019,1805], rights:[997,1782,2568],
   xCal:[[1000,351.5,5000,967.4],[5000,1053.5,20000,1759.5],[20000,1838.5,600000,2499.4]],
   yCal:[1.50,1246,1.30,1890], band:false, title:'SFD', titleName:'y-axis-title-sfd', titleX:94,
   ticks:sfdTicks, tickLabels:sfdTickLabels, minor:sfdMinor, cloudR:[13,11.5,11],
   data:[
    {BAW:sfd1BAW,CYDS:sfd1CYDS,COPW:sfd1COPW,DELB:sfd1DELB,NSAN:sfd1NSAN,PPUM:sfd1PPUM,VPOC:sfd1VPOC,VPOM:sfd1VPOM,POC:sfd1POC,curve:sfd1Curve},
    {CYDS:sfd2CYDS,COPW:sfd2COPW,NSAN:sfd2NSAN,PLTHP:sfd2PLTHP,PPUM:sfd2PPUM,VPOC:sfd2VPOC,VPOM:sfd2VPOM,POC:sfd2POC,curve:sfd2Curve},
    {CYDS:sfd3CYDS,DELB:sfd3DELB,NSAN:sfd3NSAN,PLTHP:sfd3PLTHP,PPUM:sfd3PPUM,VPOC:sfd3VPOC,VPOM:sfd3VPOM,POC:sfd3POC,curve:sfd3Curve}]},
  {strip:[2235,2325], plot:[2325,3078], lefts:[152,965,1777], rights:[942,1755,2568],
   xCal:[[1000,273.6,5000,912],[5000,1000.4,20000,1731],[20000,1812.6,600000,2497]],
   yCal:[5,2456.8,1,3063.6], band:true, title:'SI', titleName:'y-axis-title-si', titleX:94,
   ticks:siTicks, tickLabels:siTickLabels, minor:siMinor, cloudR:[13,12.5,11],
   data:[
    {BAW:si1BAW,CYDS:si1CYDS,COPW:si1COPW,DELB:si1DELB,NSAN:si1NSAN,PLTHP:si1PLTHP,PPUM:si1PPUM,VPOC:si1VPOC,VPOM:si1VPOM,POC:si1POC,curve:si1Curve},
    {BAW:si2BAW,CYDS:si2CYDS,COPW:si2COPW,NSAN:si2NSAN,PLTHP:si2PLTHP,PPUM:si2PPUM,VPOC:si2VPOC,VPOM:si2VPOM,POC:si2POC,curve:si2Curve},
    {CYDS:si3CYDS,COPW:si3COPW,DELB:si3DELB,NSAN:si3NSAN,PLTHP:si3PLTHP,PPUM:si3PPUM,VPOC:si3VPOC,VPOM:si3VPOM,POC:si3POC,curve:si3Curve}]}
];
const columnTicks = [smallTicks, midTicks, largeTicks];
const columnTickLabels = [smallTickLabels, midTickLabels, largeTickLabels];
const columnMinor = [smallMinor, midMinor, largeMinor];
const pointRadius = 10.5;

const NS = 'http://www.w3.org/2000/svg';
const root = document.getElementById('chart');
function make(tag, attrs, parent){
  const e = document.createElementNS(NS, tag);
  for (const k in attrs) e.setAttribute(k, attrs[k]);
  parent.appendChild(e);
  return e;
}
function linearAxis(v0, p0, v1, p1){
  const k = (p1 - p0) / (v1 - v0);
  return v => p0 + (v - v0) * k;
}
function smoothPath(pts){
  let d = 'M' + pts[0][0].toFixed(1) + ' ' + pts[0][1].toFixed(1);
  for (let i = 0; i < pts.length - 1; i++) {
    const p0 = pts[Math.max(i - 1, 0)], p1 = pts[i], p2 = pts[i + 1], p3 = pts[Math.min(i + 2, pts.length - 1)];
    const c1x = p1[0] + (p2[0] - p0[0]) / 6, c1y = p1[1] + (p2[1] - p0[1]) / 6;
    const c2x = p2[0] - (p3[0] - p1[0]) / 6, c2y = p2[1] - (p3[1] - p1[1]) / 6;
    d += ' C' + c1x.toFixed(1) + ' ' + c1y.toFixed(1) + ' ' + c2x.toFixed(1) + ' ' + c2y.toFixed(1) + ' ' + p2[0].toFixed(1) + ' ' + p2[1].toFixed(1);
  }
  return d;
}

rowLayouts.forEach((row, r) => {
  const top = row.plot[0], bottom = row.plot[1];
  const yAxis = linearAxis(row.yCal[0], row.yCal[1], row.yCal[2], row.yCal[3]);

  const yTitle = make('text', {x:row.titleX, y:(top+bottom)/2, transform:'rotate(-90 '+row.titleX+' '+(top+bottom)/2+')', 'text-anchor':'middle', 'font-size':80, 'font-weight':'bold', fill:'#000'}, root);
  
  
  yTitle.textContent = row.title;

  row.lefts.forEach((left, c) => {
    const right = row.rights[c];
    const xAxis = linearAxis(row.xCal[c][0], row.xCal[c][1], row.xCal[c][2], row.xCal[c][3]);
    const panel = make('g', {}, root);
    
    

    const strip = make('rect', {x:left, y:row.strip[0], width:right-left, height:row.strip[1]-row.strip[0], fill:'#d9d9d9'}, panel);
    
    
    if (row.band) {
      const band = make('rect', {x:left, y:row.strip[0], width:right-left, height:17, fill:'#e0e0e0'}, panel);
      
      
    }
    const stripText = make('text', {x:(left+right)/2, y:(row.strip[0]+row.strip[1])/2+20, 'text-anchor':'middle', 'font-size':59.5, 'font-weight':'bold', fill:'#1a1a1a'}, panel);
    
    
    stripText.textContent = stripLabels[c];

    const grid = make('g', {}, panel);
    
    
    const minorStyle = {stroke:'#d3d3d3', 'stroke-width':2, 'stroke-dasharray':'8 6', fill:'none'};
    const majorStyle = {stroke:'#bebebe', 'stroke-width':4, 'stroke-dasharray':'15 15', fill:'none'};
    row.minor.forEach(v => {
      const g = make('line', Object.assign({x1:left, x2:right, y1:yAxis(v), y2:yAxis(v)}, minorStyle), grid);
      
      
    });
    columnMinor[c].forEach(v => {
      const g = make('line', Object.assign({x1:xAxis(v), x2:xAxis(v), y1:top, y2:bottom}, minorStyle), grid);
      
      
    });
    row.ticks.forEach(v => {
      const g = make('line', Object.assign({x1:left, x2:right, y1:yAxis(v), y2:yAxis(v)}, majorStyle), grid);
      
      
    });
    columnTicks[c].forEach(v => {
      const g = make('line', Object.assign({x1:xAxis(v), x2:xAxis(v), y1:top, y2:bottom}, majorStyle), grid);
      
      
    });

    const dataset = row.data[c];
    seriesCodes.forEach((code, s) => {
      const columns = dataset[code];
      if (!columns) return;
      const group = make('g', {fill:seriesColors[s], 'fill-opacity':code === 'PPUM' ? 0.93 : 0.8}, panel);
      
      
      columns.forEach(col => {
        const radius = col.length > 2 ? row.cloudR[c] : pointRadius;
        for (let i = 1; i < col.length; i++) {
          const dot = make('circle', {cx:xAxis(col[0]), cy:yAxis(col[i]), r:radius}, group);
          
          
        }
      });
    });

    const curvePixels = dataset.curve.map(p => [xAxis(p[0]), yAxis(p[1])]);
    const curve = make('path', {d:smoothPath(curvePixels), fill:'none', stroke:'#000', 'stroke-width':11, 'stroke-linejoin':'round'}, panel);
    
    

    const border = make('rect', {x:left, y:top, width:right-left, height:bottom-top, fill:'none', stroke:'#7f7f7f', 'stroke-width':2}, panel);
    
    

    const xLine = make('line', {x1:left-2, x2:right, y1:bottom, y2:bottom, stroke:'#000', 'stroke-width':4}, panel);
    
    

    columnTicks[c].forEach((v, i) => {
      const px = xAxis(v);
      const tick = make('line', {x1:px, x2:px, y1:bottom, y2:bottom+11, stroke:'#333', 'stroke-width':4}, panel);
      
      
      const bx = px + 44, by = bottom + 24;
      const label = make('text', {x:bx, y:by, transform:'rotate(-90 '+bx+' '+by+')', 'text-anchor':'end', 'font-size':58, fill:'#4d4d4d'}, panel);
      
      
      label.textContent = columnTickLabels[c][i];
    });

    if (c === 0) {
      const yLine = make('line', {x1:left, x2:left, y1:top, y2:bottom, stroke:'#000', 'stroke-width':4}, panel);
      
      
      row.ticks.forEach((v, i) => {
        const py = yAxis(v);
        const tick = make('line', {x1:left-11, x2:left, y1:py, y2:py, stroke:'#333', 'stroke-width':4}, panel);
        
        
        const label = make('text', {x:left-22, y:py+21, 'text-anchor':'end', 'font-size':59, fill:'#4d4d4d'}, panel);
        
        
        label.textContent = row.tickLabels[i];
      });
    }
  });
});

// ---------- legend ----------
const legendBoxX = [869,869,1137,1137,1423,1423,1715,1715,1988,1988];
const legendLabelX = [943,943,1210,1210,1499,1499,1791,1791,2065,2065];
const legend = make('g', {}, root);


const legendTitle = make('text', {x:408, y:3438, 'font-size':59.5, 'font-weight':'bold', fill:'#000'}, legend);


legendTitle.textContent = 'Wetlandscapes';
seriesCodes.forEach((code, i) => {
  const rowTop = i % 2 === 0 ? 3361 : 3417;
  const bg = make('rect', {x:legendBoxX[i], y:rowTop, width:45, height:56, fill:'#f2f2f2'}, legend);
  
  
  const key = make('circle', {cx:legendBoxX[i]+22.5, cy:rowTop+28, r:14.5, fill:seriesColors[i]}, legend);
  
  
  const label = make('text', {x:legendLabelX[i], y:rowTop+49, 'font-size':58.5, 'font-weight':'bold', fill:'#000'}, legend);
  
  
  label.textContent = code;
});

const xTitle = make('text', {x:617, y:3559, 'font-size':72, 'font-weight':'bold', fill:'#000', textLength:1414, lengthAdjust:'spacingAndGlyphs'}, root);


xTitle.textContent = 'Time-averaged area for each GIW [m²]';
</script>
</body>
</html>
